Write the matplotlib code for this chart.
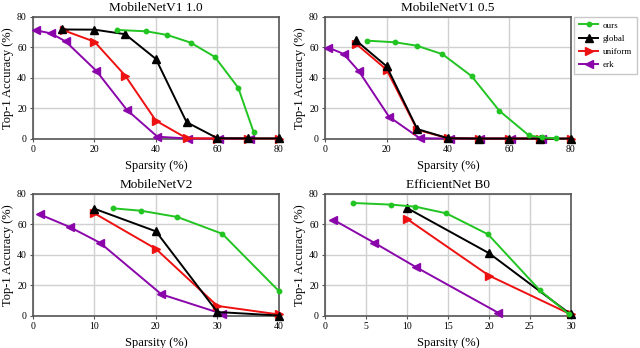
import matplotlib
matplotlib.use("Agg")
import matplotlib.pyplot as plt
from matplotlib.lines import Line2D

plt.rcParams['font.family'] = ['Liberation Serif', 'DejaVu Serif']

titles = ["MobileNetV1 1.0", "MobileNetV1 0.5", "MobileNetV2", "EfficientNet B0"]
xlims = [80, 80, 40, 30]
xticks_list = [[0, 20, 40, 60, 80], [0, 20, 40, 60, 80], [0, 10, 20, 30, 40], [0, 5, 10, 15, 20, 25, 30]]
yticks = [0, 20, 40, 60, 80]

# MobileNetV1 1.0
v1_ours_x = [27.4, 36.9, 43.7, 51.3, 59.2, 66.8, 71.8]
v1_ours_y = [71.5, 70.6, 68.2, 63.2, 53.8, 33.6, 4.6]
v1_global_x = [9.5, 20, 30, 40, 50, 60, 70, 80]
v1_global_y = [71.8, 71.7, 68.7, 52.5, 11.0, 0.5, 0.4, 0.4]
v1_uniform_x = [10, 20, 30, 40, 50, 60, 70, 80]
v1_uniform_y = [71.2, 63.8, 41.6, 12.0, 0.5, 0.3, 0.3, 0.3]
v1_erk_x = [1.0, 5.8, 10.6, 20.6, 30.5, 40.5, 50.5, 60.5, 70.5]
v1_erk_y = [71.2, 69.3, 64.0, 44.7, 19.2, 1.5, 0.3, 0.3, 0.3]

# MobileNetV1 0.5
v05_ours_x = [13.5, 22.8, 29.8, 38.2, 47.7, 56.7, 66.3, 70.5, 75.1]
v05_ours_y = [64.5, 63.4, 61.2, 55.6, 41.2, 18.5, 2.4, 1.0, 0.5]
v05_global_x = [10, 20, 30, 40, 50, 60, 70, 80]
v05_global_y = [64.7, 47.7, 6.5, 0.5, 0.3, 0.3, 0.3, 0.3]
v05_uniform_x = [10, 20, 30, 40, 50, 60, 70, 80]
v05_uniform_y = [62.5, 45.5, 6.0, 0.5, 0.3, 0.3, 0.3, 0.3]
v05_erk_x = [1.1, 6.0, 11.0, 20.8, 30.8, 40.5, 50.5, 60.5, 70.5]
v05_erk_y = [59.9, 55.8, 44.4, 14.6, 0.5, 0.3, 0.3, 0.3, 0.3]

# MobileNetV2
v2_ours_x = [13.0, 17.6, 23.5, 30.8, 40.0]
v2_ours_y = [70.6, 69.0, 64.9, 53.9, 16.4]
v2_global_x = [10, 20, 30, 40]
v2_global_y = [70.3, 55.5, 2.6, 0.3]
v2_uniform_x = [10, 20, 30, 40]
v2_uniform_y = [67.3, 44.0, 6.6, 1.0]
v2_erk_x = [1.1, 6.0, 10.9, 20.9, 30.7]
v2_erk_y = [66.6, 58.3, 48.0, 14.2, 1.5]

# EfficientNet B0
b0_ours_x = [3.4, 8.1, 11.0, 14.8, 19.9, 26.2, 29.8]
b0_ours_y = [74.1, 73.0, 71.7, 67.3, 53.5, 16.9, 1.0]
b0_global_x = [10, 20, 30]
b0_global_y = [70.8, 41.2, 1.0]
b0_uniform_x = [10, 20, 30]
b0_uniform_y = [63.6, 26.5, 1.0]
b0_erk_x = [1.0, 6.0, 11.1, 21.1]
b0_erk_y = [63.1, 48.0, 32.0, 2.2]

data = [
    [(v1_ours_x, v1_ours_y), (v1_global_x, v1_global_y), (v1_uniform_x, v1_uniform_y), (v1_erk_x, v1_erk_y)],
    [(v05_ours_x, v05_ours_y), (v05_global_x, v05_global_y), (v05_uniform_x, v05_uniform_y), (v05_erk_x, v05_erk_y)],
    [(v2_ours_x, v2_ours_y), (v2_global_x, v2_global_y), (v2_uniform_x, v2_uniform_y), (v2_erk_x, v2_erk_y)],
    [(b0_ours_x, b0_ours_y), (b0_global_x, b0_global_y), (b0_uniform_x, b0_uniform_y), (b0_erk_x, b0_erk_y)],
]

series_names = ["ours", "global", "uniform", "erk"]
colors = ["#22c422", "#000000", "#ee1111", "#8a06aa"]
markers = ["o", "^", ">", "<"]
msizes = [3.2, 6, 6, 6]

fig = plt.figure(figsize=(6.4, 3.48), dpi=100)
positions = [
    [0.0516, 0.6006, 0.384, 0.3506],
    [0.508, 0.6006, 0.384, 0.3506],
    [0.0516, 0.092, 0.384, 0.3506],
    [0.508, 0.092, 0.384, 0.3506],
]

for i in range(4):
    ax = fig.add_axes(positions[i])
    for s in [3, 2, 1, 0]:
        xs, ys = data[i][s]
        ax.plot(xs, ys, color=colors[s], marker=markers[s], markersize=msizes[s],
                linewidth=1.4, clip_on=False, zorder=3)
    ax.set_xlim(0, xlims[i])
    ax.set_ylim(0, 80)
    ax.set_xticks(xticks_list[i])
    ax.set_yticks(yticks)
    ax.grid(True, color="#d0d0d0", linewidth=1.0)
    ax.set_axisbelow(True)
    for sp in ax.spines.values():
        sp.set_color("#555555")
        sp.set_linewidth(1.2)
    ax.tick_params(axis='both', labelsize=7, length=2.5, width=0.8, color="#555555",
                   direction='out', pad=2)
    ax.set_title(titles[i], fontsize=9.5, pad=4)
    ax.set_xlabel("Sparsity (%)", fontsize=9, labelpad=4)
    ax.set_ylabel("Top-1 Accuracy (%)", fontsize=9, labelpad=2)

handles = [Line2D([], [], color=colors[s], marker=markers[s], markersize=msizes[s], linewidth=1.4)
           for s in range(4)]

fig.legend(handles, series_names, loc="upper left", bbox_to_anchor=(0.897, 0.952),
           fontsize=6.5, frameon=True, fancybox=False, edgecolor="#bbbbbb",
           handlelength=2.2, borderpad=0.5, labelspacing=0.55, handletextpad=0.5,
           borderaxespad=0.0)

fig.savefig("out.png", dpi=100)
